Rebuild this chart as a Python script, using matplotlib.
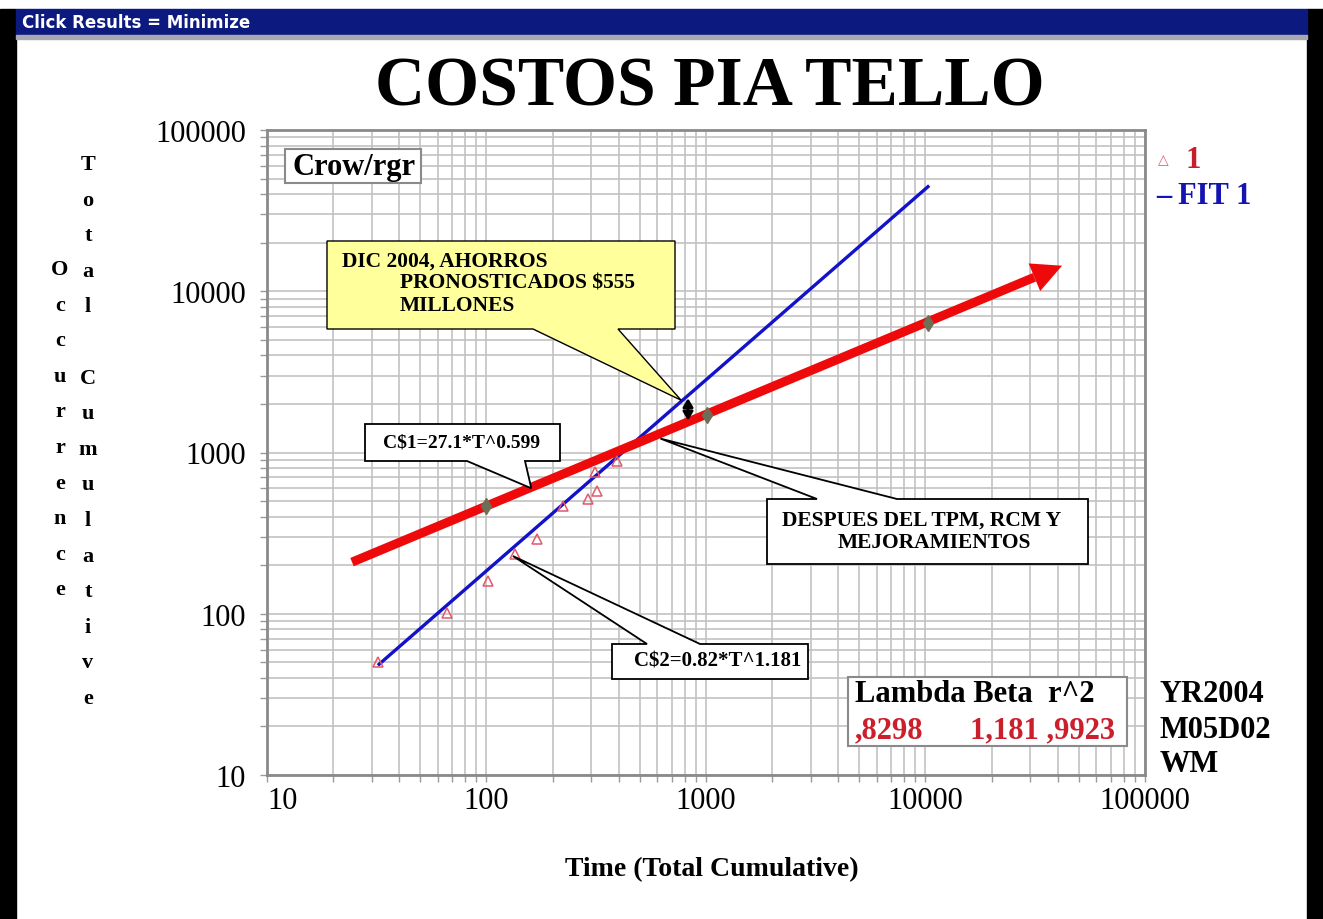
import numpy as np
import matplotlib.pyplot as plt
from matplotlib.patches import Polygon, Rectangle
from matplotlib.ticker import LogLocator, NullFormatter

W, H = 1323, 920

# Datos observados (triangulos, serie "1")
t_obs = [32, 66, 102, 135, 170, 223, 290, 318, 312, 393]
c_obs = [50, 101, 159, 235, 291, 468, 516, 580, 762, 891]

# Recta roja C$1 (extremos) y sus hitos
fit1_t = [24.4, 41900]
fit1_c = [209, 14400]
hitos_t = [100, 1010, 10300]
hitos_c = [466, 1720, 6400]

# Recta azul C$2 (FIT 1)
fit2_t = [32.4, 10260]
fit2_c = [48.6, 44500]

# Flecha negra de ahorro
ahorro_t = [828, 828]
ahorro_c = [2170, 1580]

ticks = [10, 100, 1000, 10000, 100000]
tick_labels = ['10', '100', '1000', '10000', '100000']

serif = 'Liberation Serif'


def fx(x):
    return x / W


def fy(y):
    return 1 - y / H


fig = plt.figure(figsize=(W / 100, H / 100), dpi=100)
fig.patch.set_facecolor('white')

# marco de ventana
fig.add_artist(Rectangle((0, 0), fx(16), fy(10), transform=fig.transFigure, color='black', zorder=0))
fig.add_artist(Rectangle((fx(1307), 0), 1, fy(10), transform=fig.transFigure, color='black', zorder=0))
fig.add_artist(Rectangle((fx(16), fy(36)), fx(1291), 26 / H, transform=fig.transFigure,
                         color='#0c1a80', zorder=1))
fig.add_artist(Rectangle((fx(16), fy(40)), fx(1291), 4 / H, transform=fig.transFigure,
                         color='#a8a8b0', zorder=1))
fig.text(fx(22), fy(23), 'Click Results = Minimize', color='white', fontsize=12,
         fontweight='heavy', family='DejaVu Sans', va='center', ha='left')

ax = fig.add_axes([fx(267), fy(776), (1145 - 267) / W, (776 - 131) / H])
ax.set_xscale('log')
ax.set_yscale('log')
ax.set_xlim(10, 100000)
ax.set_ylim(10, 100000)

ax.xaxis.set_minor_locator(LogLocator(base=10, subs=np.arange(2, 10)))
ax.yaxis.set_minor_locator(LogLocator(base=10, subs=np.arange(2, 10)))
ax.xaxis.set_minor_formatter(NullFormatter())
ax.yaxis.set_minor_formatter(NullFormatter())
ax.set_xticks(ticks, tick_labels)
ax.set_yticks(ticks, tick_labels)
ax.grid(which='both', color='#c2c2c2', lw=1.2)
ax.set_axisbelow(True)
for s in ax.spines.values():
    s.set_color('#8a8a8a')
    s.set_linewidth(2)
ax.tick_params(which='both', direction='out', color='#9a9a9a', length=5, width=1)
ax.tick_params(axis='y', which='major', pad=10, labelsize=22)
ax.tick_params(axis='x', which='major', pad=3, labelsize=22)
for lab in ax.get_yticklabels() + ax.get_xticklabels():
    lab.set_family(serif)
xl = ax.get_xticklabels()
xl[0].set_horizontalalignment('left')

# linea azul
ax.plot(fit2_t, fit2_c, color='#1212c8', lw=2.4, zorder=3)

# linea roja con punta de flecha
p0 = ax.transData.transform((fit1_t[0], fit1_c[0]))
p1 = ax.transData.transform((fit1_t[1], fit1_c[1]))
d = (p1 - p0) / np.hypot(*(p1 - p0))
n = np.array([-d[1], d[0]])
base = p1 - d * 30
inv = ax.transData.inverted()
base_d = inv.transform(base)
ax.plot([fit1_t[0], base_d[0]], [fit1_c[0], base_d[1]], color='#ee0a0a', lw=6.5,
        solid_capstyle='butt', zorder=4)
head = inv.transform([p1, base + n * 15, base - n * 15])
ax.add_patch(Polygon(head, closed=True, facecolor='#ee0a0a', edgecolor='none', zorder=4))

ax.plot(hitos_t, hitos_c, 'd', color='#6e6e56', ms=8, zorder=5)
ax.plot(t_obs, c_obs, '^', mfc='none', mec='#e05a6a', ms=7, mew=1.1, zorder=5)
ax.annotate('', xy=(ahorro_t[1], ahorro_c[1]), xytext=(ahorro_t[0], ahorro_c[0]),
            arrowprops=dict(arrowstyle='<|-|>,head_length=0.5,head_width=0.3', color='black',
                            lw=2, mutation_scale=10, shrinkA=0, shrinkB=0), zorder=6)


def callout(box, base, tip, side, face, lw=1.0):
    x0, y0, x1, y1 = box
    b0, b1 = base
    tx, ty = fig.transFigure.inverted().transform(ax.transData.transform(tip))
    if side == 'bottom':
        pts = [(fx(x0), fy(y0)), (fx(x1), fy(y0)), (fx(x1), fy(y1)), (fx(b1), fy(y1)),
               (tx, ty), (fx(b0), fy(y1)), (fx(x0), fy(y1))]
    else:
        pts = [(fx(x0), fy(y0)), (fx(b0), fy(y0)), (tx, ty), (fx(b1), fy(y0)),
               (fx(x1), fy(y0)), (fx(x1), fy(y1)), (fx(x0), fy(y1))]
    fig.add_artist(Polygon(pts, closed=True, transform=fig.transFigure, facecolor=face,
                           edgecolor='black', lw=lw, zorder=5))


callout((327, 242, 675, 330), (533, 618), (770, 2110), 'bottom', '#ffff9c')
callout((365, 425, 560, 462), (467, 525), (160, 600), 'bottom', 'white', 1.3)
callout((612, 645, 808, 680), (647, 700), (132, 228), 'top', 'white', 1.3)
callout((767, 500, 1088, 565), (817, 897), (620, 1220), 'top', 'white', 1.3)

tk = dict(family=serif, fontweight='bold', zorder=7)
fig.text(fx(342), fy(262), 'DIC 2004, AHORROS', fontsize=15.5, va='center', **tk)
fig.text(fx(400), fy(284), 'PRONOSTICADOS $555', fontsize=15.5, va='center', **tk)
fig.text(fx(400), fy(306), 'MILLONES', fontsize=15.5, va='center', **tk)
fig.text(fx(462), fy(443), 'C$1=27.1*T^0.599', fontsize=14, va='center', ha='center', **tk)
fig.text(fx(718), fy(662), 'C$2=0.82*T^1.181', fontsize=15, va='center', ha='center', **tk)
fig.text(fx(782), fy(521), 'DESPUES DEL TPM, RCM Y', fontsize=15.5, va='center', **tk)
fig.text(fx(838), fy(543), 'MEJORAMIENTOS', fontsize=15.5, va='center', **tk)

# caja Crow/rgr
fig.add_artist(Rectangle((fx(285), fy(184)), 136 / W, 34 / H, transform=fig.transFigure,
                         facecolor='white', edgecolor='#8a8a8a', lw=1.5, zorder=5))
fig.text(fx(292), fy(167), 'Crow/rgr', fontsize=22, va='center', **tk)

# caja Lambda Beta
fig.add_artist(Rectangle((fx(848), fy(747)), 279 / W, 69 / H, transform=fig.transFigure,
                         facecolor='white', edgecolor='#8a8a8a', lw=1.5, zorder=5))
fig.text(fx(855), fy(695), 'Lambda Beta  r^2', fontsize=22, va='center', **tk)
fig.text(fx(855), fy(731), ',8298', fontsize=22, va='center', color='#cc1f2c', **tk)
fig.text(fx(970), fy(731), '1,181 ,9923', fontsize=22, va='center', color='#cc1f2c', **tk)

for lab, yy in zip(['YR2004', 'M05D02', 'WM'], [695, 731, 765]):
    fig.text(fx(1160), fy(yy), lab, fontsize=22, va='center', **tk)

# leyenda
fig.text(fx(1163), fy(160), '\u25b3', fontsize=10, va='center', ha='center', color='#e05a6a',
         family='DejaVu Sans')
fig.text(fx(1186), fy(160), '1', fontsize=22, va='center', color='#c81e2c', **tk)
fig.text(fx(1156), fy(196), '\u2013', fontsize=22, va='center', color='#1414b4', **tk)
fig.text(fx(1178), fy(196), 'FIT 1', fontsize=22, va='center', color='#1414b4', **tk)

# titulo
fig.text(fx(710), fy(88), 'COSTOS PIA TELLO', fontsize=50, ha='center', va='center',
         family=serif, fontweight='bold')

# etiqueta eje x
fig.text(fx(712), fy(870), 'Time (Total Cumulative)', fontsize=20, ha='center', va='center',
         family=serif, fontweight='bold')

# etiqueta eje y, letras apiladas
step = 35.6
for i, ch in enumerate('Total Cumulative'):
    fig.text(fx(88), fy(165 + i * step), ch, fontsize=16, ha='center', va='center',
             family=serif, fontweight='bold')
for i, ch in enumerate('Occurrence'):
    fig.text(fx(60), fy(270 + i * step), ch, fontsize=16, ha='center', va='center',
             family=serif, fontweight='bold')

fig.savefig('out.png', dpi=100)
